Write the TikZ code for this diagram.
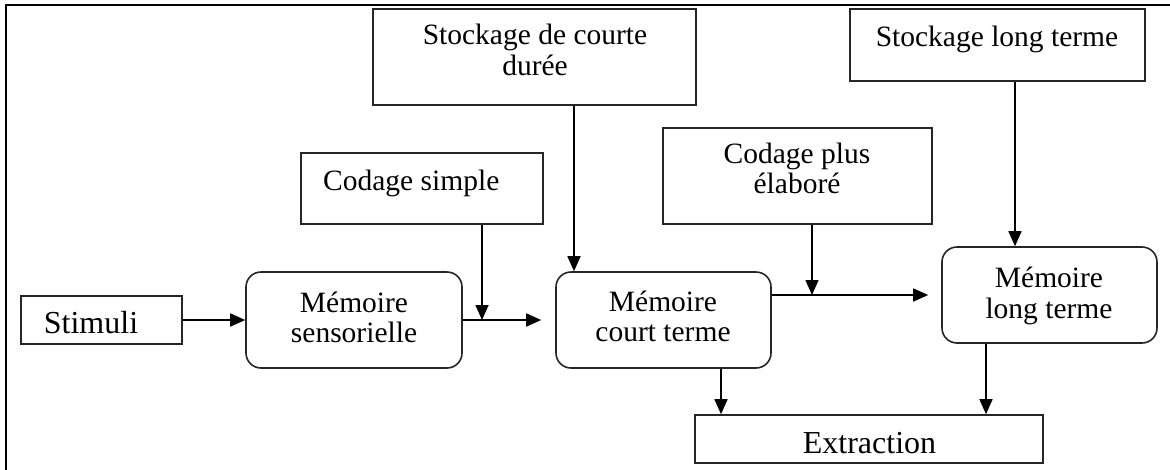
\documentclass[tikz,border=0pt]{standalone}
\usepackage{fontspec}
\setmainfont{Liberation Serif}
\usetikzlibrary{arrows.meta}
\begin{document}
\begin{tikzpicture}[x=1pt,y=1pt,
  box/.style={draw=black!85,line width=1.6pt,inner sep=0pt},
  rbox/.style={box,rounded corners=15pt},
  txt/.style={inner sep=0pt,font=\fontsize{29.5}{31}\selectfont,align=center},
  bigtxt/.style={inner sep=0pt,font=\fontsize{32}{34}\selectfont},
  arr/.style={line width=1.6pt,-{Triangle[length=15pt,width=13pt]}}]
\useasboundingbox (0,0) rectangle (1170,-469);
\draw[line width=2pt] (6,-470) -- (6,-5) -- (1171,-5);
% boxes
\node[box,minimum width=161pt,minimum height=48pt] (stim) at (101.5,-320) {};
\node[rbox,minimum width=216pt,minimum height=96pt] (ms) at (354,-320) {};
\node[rbox,minimum width=215pt,minimum height=96pt] (mct) at (663.5,-320) {};
\node[rbox,minimum width=215pt,minimum height=96pt] (mlt) at (1049.5,-295) {};
\node[box,minimum width=242pt,minimum height=71pt] (cs) at (422,-188.5) {};
\node[box,minimum width=323pt,minimum height=96pt] (scd) at (534.5,-57) {};
\node[box,minimum width=269pt,minimum height=96pt] (cpe) at (797.5,-176) {};
\node[box,minimum width=295pt,minimum height=72pt] (slt) at (997.5,-45) {};
\node[box,minimum width=348pt,minimum height=48pt] (ext) at (869,-439) {};
% texts
\node[bigtxt,anchor=base] (stimT) at (91,-333) {Stimuli};
\node[txt,anchor=base] (msT1) at (354,-312) {Mémoire};
\node[txt,anchor=base] (msT2) at (354,-342) {sensorielle};
\node[txt,anchor=base] (mctT1) at (663,-311) {Mémoire};
\node[txt,anchor=base] (mctT2) at (663,-341) {court terme};
\node[txt,anchor=base] (mltT1) at (1049,-287) {Mémoire};
\node[txt,anchor=base] (mltT2) at (1049,-318) {long terme};
\node[txt,anchor=base west] (csT) at (323,-190) {Codage simple};
\node[txt,anchor=base] (scdT1) at (535,-44) {Stockage de courte};
\node[txt,anchor=base] (scdT2) at (535,-75) {durée};
\node[txt,anchor=base] (cpeT1) at (797,-163) {Codage plus};
\node[txt,anchor=base] (cpeT2) at (797,-193) {élaboré};
\node[txt,anchor=base] (sltT) at (997,-46) {Stockage long terme};
\node[bigtxt,anchor=base] (extT) at (869.5,-453) {Extraction};
% connectors
\draw[arr] (stim.east) -- (ms.west);
\draw[arr,shorten >=14pt] (ms.east) -- (mct.west);
\draw[arr] ([xshift=60pt]cs.south) -- ([xshift=60pt]cs.south |- ms.east);
\draw[arr] ([xshift=39.5pt]scd.south) -- ([xshift=39.5pt]scd.south |- mct.north);
\draw[arr,shorten >=13pt] (mct.east |- mlt.west) -- (mlt.west);
\draw[arr] ([xshift=14.5pt]cpe.south) -- ([xshift=14.5pt]cpe.south |- mlt.west);
\draw[arr] ([xshift=17.5pt]slt.south) -- ([xshift=17.5pt]slt.south |- mlt.north);
\draw[arr] ([xshift=57.5pt]mct.south) -- ([xshift=57.5pt]mct.south |- ext.north);
\draw[arr] ([xshift=-63.5pt]mlt.south) -- ([xshift=-63.5pt]mlt.south |- ext.north);
\end{tikzpicture}
\end{document}
